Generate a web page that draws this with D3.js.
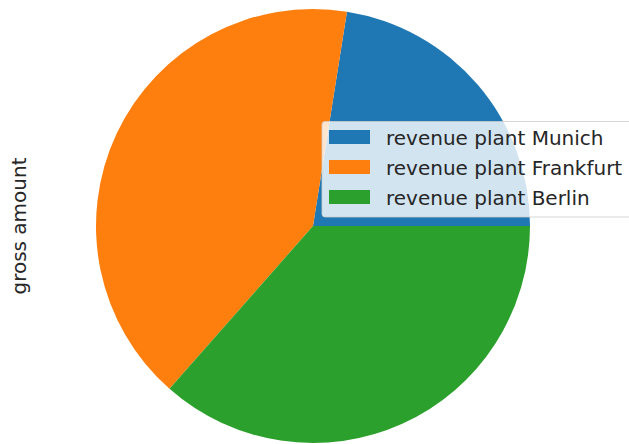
<!DOCTYPE html>
<html><head><meta charset="utf-8">
<script src="https://cdn.jsdelivr.net/npm/d3@7"></script>
<style>body{margin:0;background:#fff;overflow:hidden}svg{display:block}</style>
</head><body>
<script>
const categories = ["revenue plant Munich", "revenue plant Frankfurt", "revenue plant Berlin"];
const values = [22.5, 41.0, 36.5];
const colors = ["#1f77b4", "#ff7f0e", "#2ca02c"];
const yLabel = "gross amount";

const W = 629, H = 444;
const cx = 313, cy = 226, R = 217;
const svg = d3.select("body").append("svg").attr("width", W).attr("height", H);

// matplotlib: start at 3 o'clock, counterclockwise. d3 angles: 0 at 12 o'clock, clockwise.
const pie = d3.pie().sort(null).value(d => d)
  .startAngle(Math.PI / 2).endAngle(Math.PI / 2 - 2 * Math.PI);
const arc = d3.arc().innerRadius(0).outerRadius(R);
const g = svg.append("g").attr("transform", `translate(${cx},${cy})`);
g.selectAll("path").data(pie(values)).join("path")
  .attr("d", arc).attr("fill", (d, i) => colors[i]);

svg.append("text")
  .attr("transform", `translate(26,${cy}) rotate(-90)`)
  .attr("text-anchor", "middle")
  .attr("font-family", "DejaVu Sans")
  .attr("font-size", 20).attr("fill", "#262626")
  .text(yLabel);

// legend
const lg = svg.append("g").attr("transform", "translate(322,121.5)");
lg.append("rect").attr("x", 0).attr("y", 0).attr("width", 320).attr("height", 95.5)
  .attr("rx", 3).attr("fill", "white").attr("fill-opacity", 0.8)
  .attr("stroke", "#cccccc").attr("stroke-opacity", 0.8).attr("stroke-width", 1);
const rows = lg.selectAll("g.row").data(categories).join("g")
  .attr("transform", (d, i) => `translate(0,${8.5 + i * 30})`);
rows.append("rect").attr("x", 7).attr("y", 0).attr("width", 41).attr("height", 14)
  .attr("fill", (d, i) => colors[i]);
rows.append("text").attr("x", 64).attr("y", 14.5)
  .attr("font-family", "DejaVu Sans").attr("font-size", 20).attr("fill", "#262626")
  .text(d => d);
</script>
</body></html>
